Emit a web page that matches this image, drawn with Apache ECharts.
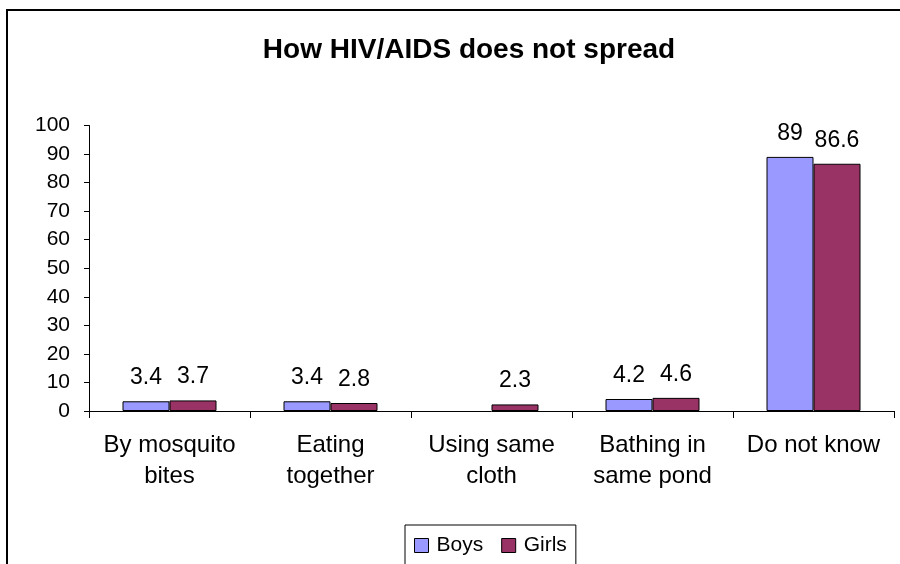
<!DOCTYPE html>
<html>
<head>
<meta charset="utf-8">
<script src="https://cdn.jsdelivr.net/npm/echarts@6/dist/echarts.min.js"></script>
<style>
  html, body { margin: 0; padding: 0; background: #fff; }
  #chart { width: 900px; height: 564px; }
</style>
</head>
<body>
<div id="chart"></div>
<script>
// Categories and survey percentages
const categories = ['By mosquito\nbites', 'Eating\ntogether', 'Using same\ncloth', 'Bathing in\nsame pond', 'Do not know'];
const boys = [3.4, 3.4, null, 4.2, 89];
const girls = [3.7, 2.8, 2.3, 4.6, 86.6];
const yTicks = { min: 0, max: 100, interval: 10 };

const FONT = '"Liberation Sans", Arial, sans-serif';

const chart = echarts.init(document.getElementById('chart'), null, { renderer: 'canvas' });

const labelStyle = {
  show: true,
  position: 'top',
  distance: 12,
  color: '#000',
  fontSize: 23,
  fontFamily: FONT
};

chart.setOption({
  backgroundColor: '#fff',
  animation: false,
  title: {
    text: 'How HIV/AIDS does not spread',
    left: 464,
    textAlign: 'center',
    top: 31,
    textStyle: { fontSize: 28, fontWeight: 'bold', color: '#000', fontFamily: FONT }
  },
  graphic: [{
    type: 'rect',
    shape: { x: 7, y: 10, width: 920, height: 570 },
    style: { fill: 'none', stroke: '#000', lineWidth: 2 },
    silent: true
  }],
  legend: {
    bottom: -6,
    left: 405,
    data: ['Boys', 'Girls'],
    itemWidth: 14,
    itemHeight: 14,
    itemGap: 18,
    padding: [10, 9, 14, 9],
    borderColor: '#000',
    borderWidth: 1,
    icon: 'rect',
    itemStyle: { borderColor: '#000', borderWidth: 1 },
    textStyle: { fontSize: 21, color: '#000', fontFamily: FONT, padding: [0, 0, 0, 3] }
  },
  grid: { left: 89, right: 6, top: 125.5, bottom: 153, containLabel: false },
  xAxis: {
    type: 'category',
    data: categories,
    axisLine: { show: true, lineStyle: { color: '#000', width: 1 } },
    axisTick: { show: true, length: 7, alignWithLabel: false, lineStyle: { color: '#000' } },
    axisLabel: { color: '#000', fontSize: 24, fontFamily: FONT, margin: 19, lineHeight: 31, interval: 0 }
  },
  yAxis: {
    type: 'value',
    min: yTicks.min,
    max: yTicks.max,
    interval: yTicks.interval,
    splitLine: { show: false },
    axisLine: { show: true, lineStyle: { color: '#000', width: 1 } },
    axisTick: { show: true, length: 5, lineStyle: { color: '#000' } },
    axisLabel: { color: '#000', fontSize: 21, fontFamily: FONT, margin: 19 }
  },
  series: [
    {
      name: 'Boys',
      type: 'bar',
      data: boys,
      barWidth: 47,
      barGap: '0%',
      itemStyle: { color: '#9999FF', borderColor: '#000', borderWidth: 1 },
      label: labelStyle
    },
    {
      name: 'Girls',
      type: 'bar',
      data: girls,
      barWidth: 47,
      itemStyle: { color: '#993366', borderColor: '#000', borderWidth: 1 },
      label: labelStyle
    }
  ]
});
</script>
</body>
</html>
